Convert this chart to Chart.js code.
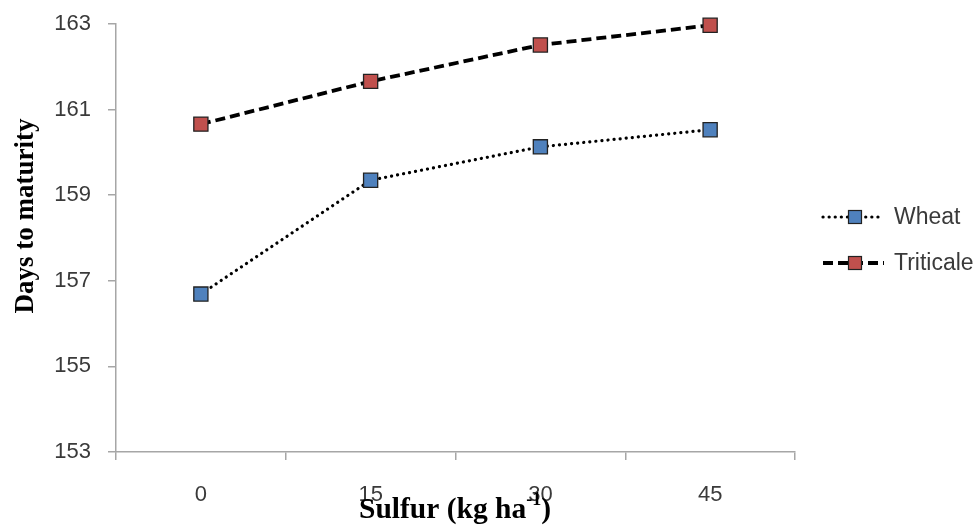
<!DOCTYPE html>
<html lang="en">
<head>
  <meta charset="UTF-8">
  <title>Days to maturity</title>
  <script src="https://cdn.jsdelivr.net/npm/chart.js"></script>
  <style>
    html, body { margin: 0; padding: 0; background: #fff; }
    #wrap { width: 980px; height: 526px; }
  </style>
</head>
<body>
  <div id="wrap"><canvas id="chart" width="980" height="526"></canvas></div>

  <script>
    // sulfur rates (kg/ha)
    const sulfur = ['0', '15', '30', '45'];
    const wheat = [156.69, 159.35, 160.13, 160.53];
    const triticale = [160.66, 161.66, 162.51, 162.97];
    const yTicks = [153, 155, 157, 159, 161, 163];

    const tickFont = { family: '"Liberation Sans", Arial, sans-serif', size: 22 };
    const axisGray = '#a6a6a6';
    const serifBold = (px) => 'bold ' + px + 'px "Liberation Serif", "Times New Roman", serif';

    // axis titles + legend drawn by hand (superscript, legend with line samples)
    const extras = {
      id: 'extras',
      afterDraw(chart) {
        const ctx = chart.ctx;
        ctx.save();
        ctx.fillStyle = '#000';

        // y title
        ctx.font = serifBold(27);
        ctx.translate(33, 216);
        ctx.rotate(-Math.PI / 2);
        ctx.textAlign = 'center';
        ctx.textBaseline = 'alphabetic';
        ctx.fillText('Days to maturity', 0, 0);
        ctx.setTransform(1, 0, 0, 1, 0, 0);

        // x title with superscript
        const base = 'Sulfur (kg ha';
        const sup = '-1';
        const tail = ')';
        ctx.font = serifBold(29.5);
        const wBase = ctx.measureText(base).width;
        const wTail = ctx.measureText(tail).width;
        ctx.font = serifBold(18);
        const wSup = ctx.measureText(sup).width;
        let x = 455 - (wBase + wSup + wTail) / 2;
        ctx.textAlign = 'left';
        ctx.font = serifBold(29.5);
        ctx.fillText(base, x, 518);
        ctx.font = serifBold(18);
        ctx.fillText(sup, x + wBase, 505);
        ctx.font = serifBold(29.5);
        ctx.fillText(tail, x + wBase + wSup, 518);

        // legend
        const rows = [217, 263];
        chart.data.datasets.forEach((ds, i) => {
          const y = rows[i];
          ctx.strokeStyle = ds.borderColor;
          ctx.lineWidth = ds.borderWidth;
          ctx.lineCap = ds.borderCapStyle || 'butt';
          ctx.setLineDash(ds.borderDash);
          ctx.beginPath();
          ctx.moveTo(823, y);
          ctx.lineTo(884, y);
          ctx.stroke();
          ctx.setLineDash([]);
          ctx.fillStyle = ds.pointBackgroundColor;
          ctx.fillRect(848.5, y - 6.5, 13, 13);
          ctx.lineWidth = 1.2;
          ctx.strokeStyle = ds.pointBorderColor;
          ctx.strokeRect(848.5, y - 6.5, 13, 13);
          ctx.fillStyle = '#3a3a3a';
          ctx.font = '23px "Liberation Sans", Arial, sans-serif';
          ctx.textBaseline = 'middle';
          ctx.fillText(ds.label, 894, y + 1);
        });
        ctx.restore();
      }
    };

    new Chart(document.getElementById('chart'), {
      type: 'line',
      data: {
        labels: sulfur,
        datasets: [
          {
            label: 'Wheat',
            data: wheat,
            borderColor: '#000',
            borderWidth: 3.2,
            borderDash: [0.1, 6],
            borderCapStyle: 'round',
            pointStyle: 'rect',
            pointRadius: 10,
            pointBackgroundColor: '#4f81bd',
            pointBorderColor: '#222',
            pointBorderWidth: 1.3,
            tension: 0,
            clip: false
          },
          {
            label: 'Triticale',
            data: triticale,
            borderColor: '#000',
            borderWidth: 3.8,
            borderDash: [10, 5],
            borderCapStyle: 'butt',
            pointStyle: 'rect',
            pointRadius: 10,
            pointBackgroundColor: '#c0504d',
            pointBorderColor: '#222',
            pointBorderWidth: 1.3,
            tension: 0,
            clip: false
          }
        ]
      },
      options: {
        responsive: false,
        animation: false,
        layout: { padding: { left: 0, right: 185, top: 24, bottom: 0 } },
        plugins: {
          legend: { display: false },
          tooltip: { enabled: false }
        },
        scales: {
          x: {
            type: 'category',
            offset: true,
            grid: { offset: true, drawOnChartArea: false, tickLength: 8, color: axisGray, lineWidth: 1.5 },
            border: { color: axisGray, width: 1.5 },
            ticks: { font: tickFont, color: '#3a3a3a', padding: 22, maxRotation: 0 },
            afterFit(scale) { scale.height = 74; }
          },
          y: {
            min: 153,
            max: 163,
            afterBuildTicks(scale) { scale.ticks = yTicks.map(v => ({ value: v })); },
            grid: { drawOnChartArea: false, tickLength: 8, color: axisGray, lineWidth: 1.5 },
            border: { color: axisGray, width: 1.5 },
            ticks: { font: tickFont, color: '#3a3a3a', padding: 17 },
            afterFit(scale) {
              scale.width = 116;
              scale.paddingTop = 12;
              scale.paddingBottom = 12;
            }
          }
        }
      },
      plugins: [extras]
    });
  </script>
</body>
</html>
